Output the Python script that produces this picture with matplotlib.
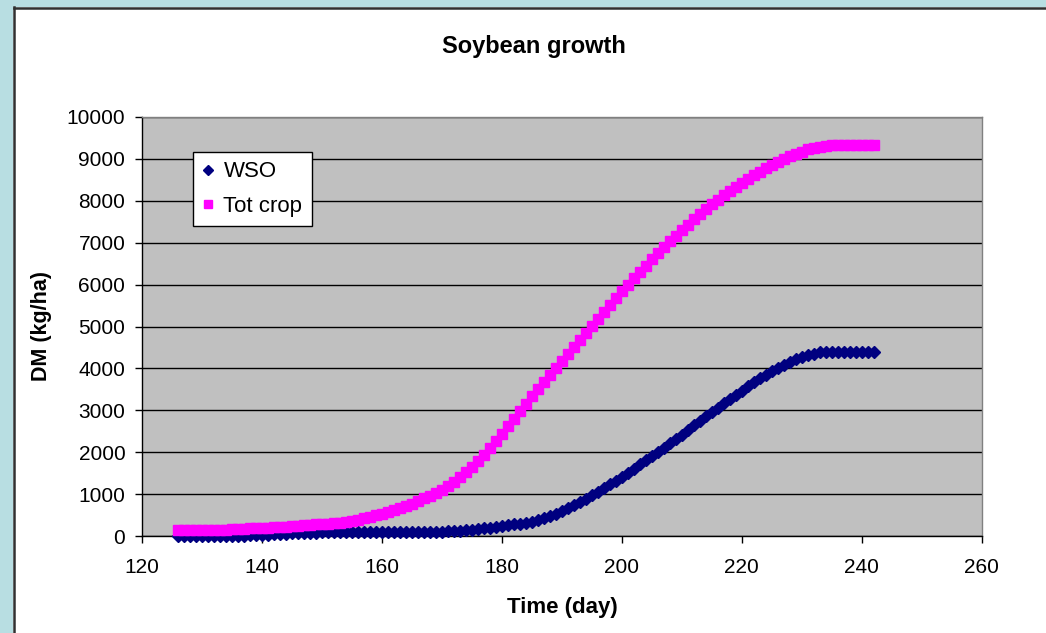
import matplotlib
matplotlib.use("Agg")
import matplotlib.pyplot as plt
from matplotlib.patches import Rectangle
from matplotlib.lines import Line2D

plt.rcParams['font.family'] = ['Liberation Sans', 'DejaVu Sans']

days = list(range(126, 243))

wso = [
    0, 0, 0, 0, 0, 0, 0, 0, 0, 0,            # 126-135
    0, 0, 20, 25, 30, 35, 40, 45, 50, 60,    # 136-145
    65, 70, 75, 80, 85, 85, 85, 85, 85, 85,  # 146-155
    85, 85, 85, 85, 85, 85, 85, 85, 85, 85,  # 156-165
    85, 90, 95, 100, 105, 110, 120, 130, 140, 155,  # 166-175
    170, 185, 200, 220, 240, 260, 275, 290, 315, 340,  # 176-185
    380, 420, 470, 530, 600, 670, 740, 815, 890, 970,  # 186-195
    1050, 1140, 1230, 1320, 1410, 1510, 1610, 1710, 1810, 1910,  # 196-205
    2010, 2110, 2220, 2320, 2420, 2530, 2640, 2750, 2860, 2960,  # 206-215
    3060, 3170, 3270, 3370, 3470, 3570, 3670, 3760, 3850, 3930,  # 216-225
    4010, 4080, 4150, 4220, 4270, 4320, 4350, 4380, 4400, 4400,  # 226-235
    4400, 4400, 4400, 4400, 4400, 4400, 4400,  # 236-242
]

tot_crop = [
    140, 140, 142, 143, 145, 147, 150, 152, 155, 160,  # 126-135
    165, 175, 180, 185, 190, 195, 205, 215, 225, 235,  # 136-145
    245, 255, 265, 275, 285, 295, 305, 320, 340, 365,  # 146-155
    390, 420, 455, 490, 530, 570, 615, 665, 715, 770,  # 156-165
    830, 895, 960, 1030, 1100, 1190, 1290, 1400, 1520, 1650,  # 166-175
    1790, 1940, 2100, 2270, 2440, 2620, 2800, 2980, 3160, 3330,  # 176-185
    3500, 3670, 3840, 4000, 4170, 4340, 4500, 4670, 4840, 5010,  # 186-195
    5180, 5350, 5510, 5680, 5840, 6000, 6155, 6305, 6455, 6600,  # 196-205
    6745, 6890, 7030, 7165, 7300, 7430, 7555, 7680, 7800, 7915,  # 206-215
    8025, 8130, 8235, 8335, 8430, 8520, 8610, 8695, 8775, 8850,  # 216-225
    8925, 8995, 9060, 9120, 9175, 9225, 9265, 9295, 9315, 9320,  # 226-235
    9320, 9320, 9320, 9320, 9320, 9320, 9320,  # 236-242
]

series_names = ["WSO", "Tot crop"]
x_ticks = [120, 140, 160, 180, 200, 220, 240, 260]
y_ticks = list(range(0, 10001, 1000))

W, H = 1046, 633
fig = plt.figure(figsize=(W / 100, H / 100), dpi=100)
fig.patch.set_facecolor('#B8DEE2')

# white chart area with dark left/top border
fig.add_artist(Rectangle((13 / W, 0), 1 - 13 / W, 1 - 7 / H, transform=fig.transFigure,
                         facecolor='white', edgecolor='none', zorder=-10))
fig.add_artist(Line2D([13.5 / W, 13.5 / W], [0, 1 - 7 / H], transform=fig.transFigure,
                      color='#303030', lw=1.8, zorder=-9))
fig.add_artist(Line2D([13.5 / W, 1], [1 - 7.5 / H, 1 - 7.5 / H], transform=fig.transFigure,
                      color='#303030', lw=1.8, zorder=-9))

left, right, top, bottom = 142, 981.7, 117, 536
ax = fig.add_axes([left / W, 1 - bottom / H, (right - left) / W, (bottom - top) / H])
ax.set_zorder(5)
ax.set_facecolor('#C0C0C0')
ax.set_xlim(120, 260)
ax.set_ylim(0, 10000)
ax.set_xticks(x_ticks)
ax.set_yticks(y_ticks)
ax.grid(axis='y', color='black', lw=1.0)
ax.set_axisbelow(True)
for s in ['top', 'right']:
    ax.spines[s].set_color('#808080')
    ax.spines[s].set_linewidth(1.0)
for s in ['left', 'bottom']:
    ax.spines[s].set_color('black')
    ax.spines[s].set_linewidth(1.0)
ax.tick_params(axis='both', direction='out', length=5, width=1, color='black',
               labelsize=15)
ax.tick_params(axis='y', pad=7)
ax.tick_params(axis='x', pad=11)

ax.plot(days, wso, linestyle='none', marker='D', markersize=6.3, color='#000080',
        markeredgecolor='#000080', clip_on=False, zorder=3, label=series_names[0])
ax.plot(days, tot_crop, linestyle='none', marker='s', markersize=7.3, color='#FF00FF',
        markeredgecolor='#FF00FF', clip_on=False, zorder=4, label=series_names[1])

leg = ax.legend(loc='upper left', bbox_to_anchor=((193 - left) / (right - left), 1 - (152 - top) / (bottom - top)),
                frameon=True, fancybox=False, fontsize=16, handlelength=0.5, handletextpad=0.45,
                borderpad=0.42, labelspacing=0.62, borderaxespad=0, markerscale=0.8)
leg.get_frame().set_edgecolor('black')
leg.get_frame().set_linewidth(1.0)
leg.get_frame().set_facecolor('white')
leg.get_frame().set_alpha(1)

fig.text(534 / W, 1 - 46 / H, "Soybean growth", ha='center', va='center',
         fontsize=17, fontweight='bold')
fig.text(562 / W, 1 - 607 / H, "Time (day)", ha='center', va='center',
         fontsize=16, fontweight='bold')
fig.text(42 / W, 1 - 326 / H, "DM (kg/ha)", ha='center', va='center', rotation=90,
         fontsize=15.5, fontweight='bold')

fig.savefig("out.png", dpi=100, facecolor=fig.get_facecolor())
